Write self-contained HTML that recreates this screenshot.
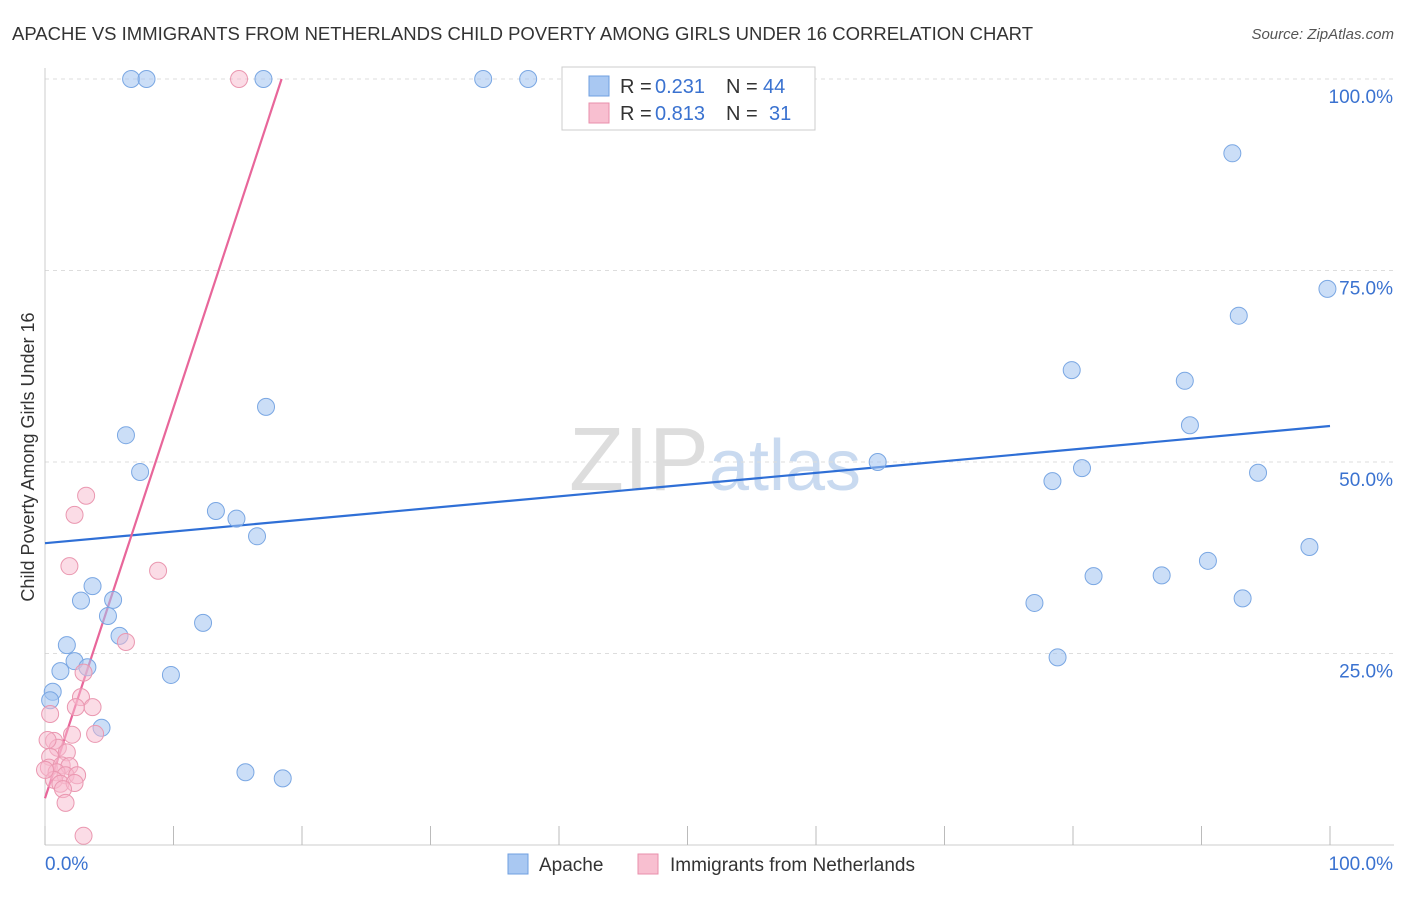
<!DOCTYPE html>
<html><head><meta charset="utf-8"><style>
body{margin:0;background:#fff;font-family:"Liberation Sans",sans-serif;}
svg text{font-family:"Liberation Sans",sans-serif;}
</style></head><body>
<svg id="chart" width="1406" height="892">
<text x="12" y="40" font-size="18" fill="#333" textLength="1021" lengthAdjust="spacingAndGlyphs">APACHE VS IMMIGRANTS FROM NETHERLANDS CHILD POVERTY AMONG GIRLS UNDER 16 CORRELATION CHART</text>
<text x="1394" y="39" font-size="15" fill="#555" font-style="italic" text-anchor="end">Source: ZipAtlas.com</text>
<text x="34" y="457" font-size="18" fill="#333" text-anchor="middle" transform="rotate(-90 34 457)">Child Poverty Among Girls Under 16</text>
<text x="715" y="490" font-size="90" fill="#ddd" text-anchor="middle" font-family="Liberation Serif">ZIP<tspan fill="#c9daf0" font-family="Liberation Sans" font-size="72">atlas</tspan></text>
<g id="grid"></g><g id="axes"></g><g id="trends"></g><g id="pts"></g>
<g>
<rect x="562" y="67" width="253" height="63" fill="#fff" stroke="#ccc"/>
<rect x="589" y="76" width="20" height="20" fill="#a9c8f2" stroke="#6f9fe0"/>
<rect x="589" y="103" width="20" height="20" fill="#f8bfd0" stroke="#e98fab"/>
<text x="620" y="93" font-size="20" fill="#333">R =</text>
<text x="655" y="93" font-size="20" fill="#3a72d0">0.231</text>
<text x="726" y="93" font-size="20" fill="#333">N =</text>
<text x="763" y="93" font-size="20" fill="#3a72d0">44</text>
<text x="620" y="120" font-size="20" fill="#333">R =</text>
<text x="655" y="120" font-size="20" fill="#3a72d0">0.813</text>
<text x="726" y="120" font-size="20" fill="#333">N =</text>
<text x="769" y="120" font-size="20" fill="#3a72d0">31</text>
</g>
<g>
<rect x="508" y="854" width="20" height="20" fill="#a9c8f2" stroke="#6f9fe0"/>
<text x="539" y="871" font-size="19" fill="#333">Apache</text>
<rect x="638" y="854" width="20" height="20" fill="#f8bfd0" stroke="#e98fab"/>
<text x="670" y="871" font-size="19" fill="#333">Immigrants from Netherlands</text>
</g>
</svg>
<script>
const ns="http://www.w3.org/2000/svg";
const blueX=[6.7,7.9,17.0,34.1,37.6,92.4,99.8,92.9,79.9,88.7,89.1,17.2,6.3,7.4,64.8,80.7,78.4,94.4,13.3,14.9,16.5,98.4,3.7,81.6,86.9,90.5,2.8,5.3,4.9,77.0,93.2,12.3,1.7,5.8,78.8,2.3,3.3,1.2,9.8,0.6,0.4,4.4,15.6,18.5];
const blueY=[100,100,100,100,100,90.3,72.6,69.1,62.0,60.6,54.8,57.2,53.5,48.7,50.0,49.2,47.5,48.6,43.6,42.6,40.3,38.9,33.8,35.1,35.2,37.1,31.9,32.0,29.9,31.6,32.2,29.0,26.1,27.3,24.5,24.0,23.2,22.7,22.2,20.0,18.9,15.3,9.5,8.7];
const pinkX=[15.1,3.2,2.3,1.9,8.8,6.3,3.0,2.8,3.7,2.4,0.4,3.9,2.1,0.7,1.0,1.7,0.4,0.3,1.3,1.9,0.9,1.6,2.5,0.7,1.2,2.3,1.4,1.6,3.0,0,0.2];
const pinkY=[100,45.6,43.1,36.4,35.8,26.5,22.5,19.3,18.0,18.0,17.1,14.5,14.4,13.6,12.7,12.1,11.5,10.1,10.4,10.3,9.5,9.1,9.1,8.5,8.0,8.1,7.3,5.5,1.2,9.8,13.7];
const blueTrend=[39.4,54.7];
const pinkTrend=[6.1,5.1];
const yTicks=[25,50,75,100];
const X=v=>45+v*12.85, Y=v=>845-v*7.66;
function mk(t,a,p){const e=document.createElementNS(ns,t);for(const k in a)e.setAttribute(k,a[k]);p.appendChild(e);return e;}
const grid=document.getElementById('grid'),axes=document.getElementById('axes'),tr=document.getElementById('trends'),pts=document.getElementById('pts');
yTicks.forEach(v=>{
 const l=mk('line',{x1:45,x2:1394,y1:Y(v),y2:Y(v),stroke:'#ddd','stroke-dasharray':'4,4'},grid);
 
 
 const t=mk('text',{x:1393,y:Y(v)+24,'font-size':19,fill:'#3a72d0','text-anchor':'end'},axes);
 t.textContent=v.toFixed(1)+'%';
 
 
});
mk('line',{x1:45,x2:45,y1:68,y2:845,stroke:'#ccc'},axes);
mk('line',{x1:45,x2:1394,y1:845,y2:845,stroke:'#ccc'},axes);
for(let i=0;i<=10;i++){const tk=mk('line',{x1:X(i*10),x2:X(i*10),y1:826,y2:845,stroke:'#bbb'},axes);
 
 }
const xl=mk('text',{x:45,y:870,'font-size':19,fill:'#3a72d0'},axes);xl.textContent='0.0%';


const xr=mk('text',{x:1393,y:870,'font-size':19,fill:'#3a72d0','text-anchor':'end'},axes);xr.textContent='100.0%';


blueX.forEach((x,i)=>{const c=mk('circle',{cx:X(x),cy:Y(blueY[i]),r:8.5,fill:'rgba(160,195,240,0.55)',stroke:'#7aa7e3','stroke-width':1},pts);
 
 });
pinkX.forEach((x,i)=>{const c=mk('circle',{cx:X(x),cy:Y(pinkY[i]),r:8.5,fill:'rgba(248,185,205,0.5)',stroke:'#ea97b0','stroke-width':1},pts);
 
 });
const bl=mk('line',{x1:X(0),y1:Y(blueTrend[0]),x2:X(100),y2:Y(blueTrend[1]),stroke:'#2f6fd6','stroke-width':2.2},tr);


const xe=(100-pinkTrend[0])/pinkTrend[1];
const pl=mk('line',{x1:X(0),y1:Y(pinkTrend[0]),x2:X(xe),y2:Y(100),stroke:'#e8669a','stroke-width':2.2},tr);


</script>
</body></html>
